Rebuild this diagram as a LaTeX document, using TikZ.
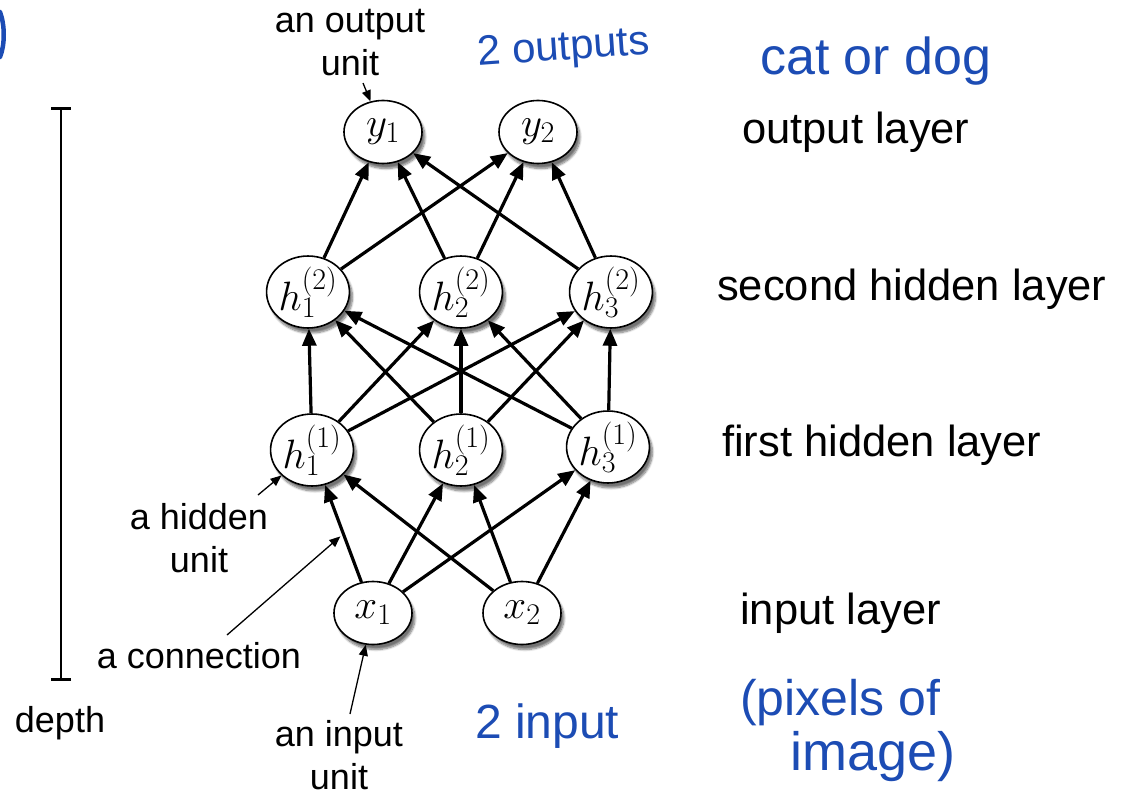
\RequirePackage{fix-cm}
\documentclass[tikz,border=0pt]{standalone}
\usepackage[no-math]{fontspec}
\setmainfont{Liberation Sans}
\DeclareMathSizes{41}{41}{30}{23}
\usetikzlibrary{arrows.meta,shapes.geometric,shadows.blur,calc}
\definecolor{ink}{RGB}{28,76,180}
\begin{document}
\begin{tikzpicture}[x=1pt,y=-1pt,
  unit/.style={ellipse,draw,line width=1.6pt,fill=white,minimum width=78pt,minimum height=63pt,inner sep=0pt,
    font=\fontsize{41}{46}\selectfont,
    blur shadow={shadow xshift=3pt,shadow yshift=-5pt,shadow blur steps=8,shadow opacity=55}},
  conn/.style={line width=3.2pt,-{Triangle[length=17pt,width=14pt]}},
  note/.style={line width=1.3pt,-{Triangle[length=11pt,width=9pt]}},
  lab/.style={font=\fontsize{36}{43}\selectfont,align=center,inner sep=0pt},
  layer/.style={font=\fontsize{43.5}{50}\selectfont,anchor=base west,inner sep=0pt},
  hand/.style={text=ink,anchor=base west,inner sep=0pt}]
\useasboundingbox (0,0) rectangle (1122,797);

% units
\node[unit] (y1) at (383,132) {$y_1$};
\node[unit] (y2) at (538,132) {$y_2$};
\node[unit] (h21) at (308,292) {$h^{(2)}_1$};
\node[unit] (h22) at (461,292) {$h^{(2)}_2$};
\node[unit] (h23) at (611,292) {$h^{(2)}_3$};
\node[unit] (h11) at (312,450) {$h^{(1)}_1$};
\node[unit] (h12) at (461,450) {$h^{(1)}_2$};
\node[unit] (h13) at (608,447) {$h^{(1)}_3$};
\node[unit] (x1) at (373,613) {$x_1$};
\node[unit] (x2) at (522,613) {$x_2$};

% connections
\foreach \a in {x1,x2}{\foreach \b in {h11,h12,h13}{\draw[conn] (\a) -- (\b);}}
\foreach \a in {h11,h12,h13}{\foreach \b in {h21,h22,h23}{\draw[conn] (\a) -- (\b);}}
\foreach \a in {h21,h22,h23}{\foreach \b in {y1,y2}{\draw[conn] (\a) -- (\b);}}

% layer labels
\node[layer] (lout) at (742,143) {output layer};
\node[layer] (lsec) at (717,300) {second hidden layer};
\node[layer] (lfirst) at (722,456) {first hidden layer};
\node[layer] (lin) at (740,624) {input layer};

% depth bar
\coordinate (dtop) at (61,107);
\coordinate (dbot) at (61,681);
\draw[line width=2.8pt,{Bar[width=20pt]}-{Bar[width=20pt]}] (dtop) -- (dbot);
\node[lab,anchor=base] (depth) at (60,732) {depth};

% annotations (anchor base = last line)
\node[lab,anchor=base] (outlab) at (350,76) {an output\\unit};
\node[lab,anchor=base] (hidlab) at (199,572) {a hidden\\unit};
\node[lab,anchor=base] (connlab) at (199,668) {a connection};
\node[lab,anchor=base] (inlab) at (339,789) {an input\\unit};

\coordinate (outsrc) at (363,83);
\draw[note] (outsrc) -- (y1);
\coordinate (hidsrc) at (258,495);
\draw[note] (hidsrc) -- (h11);
\coordinate (connsrc) at (227,635);
\coordinate (conntip) at ($(x1)!0.47!(h11)+(-4,0)$);
\draw[note] (connsrc) -- (conntip);
\coordinate (insrc) at (350,714);
\draw[note] (insrc) -- (x1);

% handwritten notes
\node[hand,font=\fontsize{42}{48}\selectfont,rotate=4] (n1) at (478,66) {2 outputs};
\node[hand,font=\fontsize{52}{60}\selectfont] (n2) at (760,75) {cat or dog};
\node[hand,font=\fontsize{48}{56}\selectfont] (n3) at (475,738) {2 input};
\node[hand,font=\fontsize{50}{58}\selectfont] (n4) at (740,715) {(pixels of};
\node[hand,font=\fontsize{54}{62}\selectfont] (n5) at (790,770) {image)};
\draw[ink,line width=4.5pt,line cap=round] (0,12) .. controls (5,25) and (5,45) .. (0,57);
\end{tikzpicture}
\end{document}
